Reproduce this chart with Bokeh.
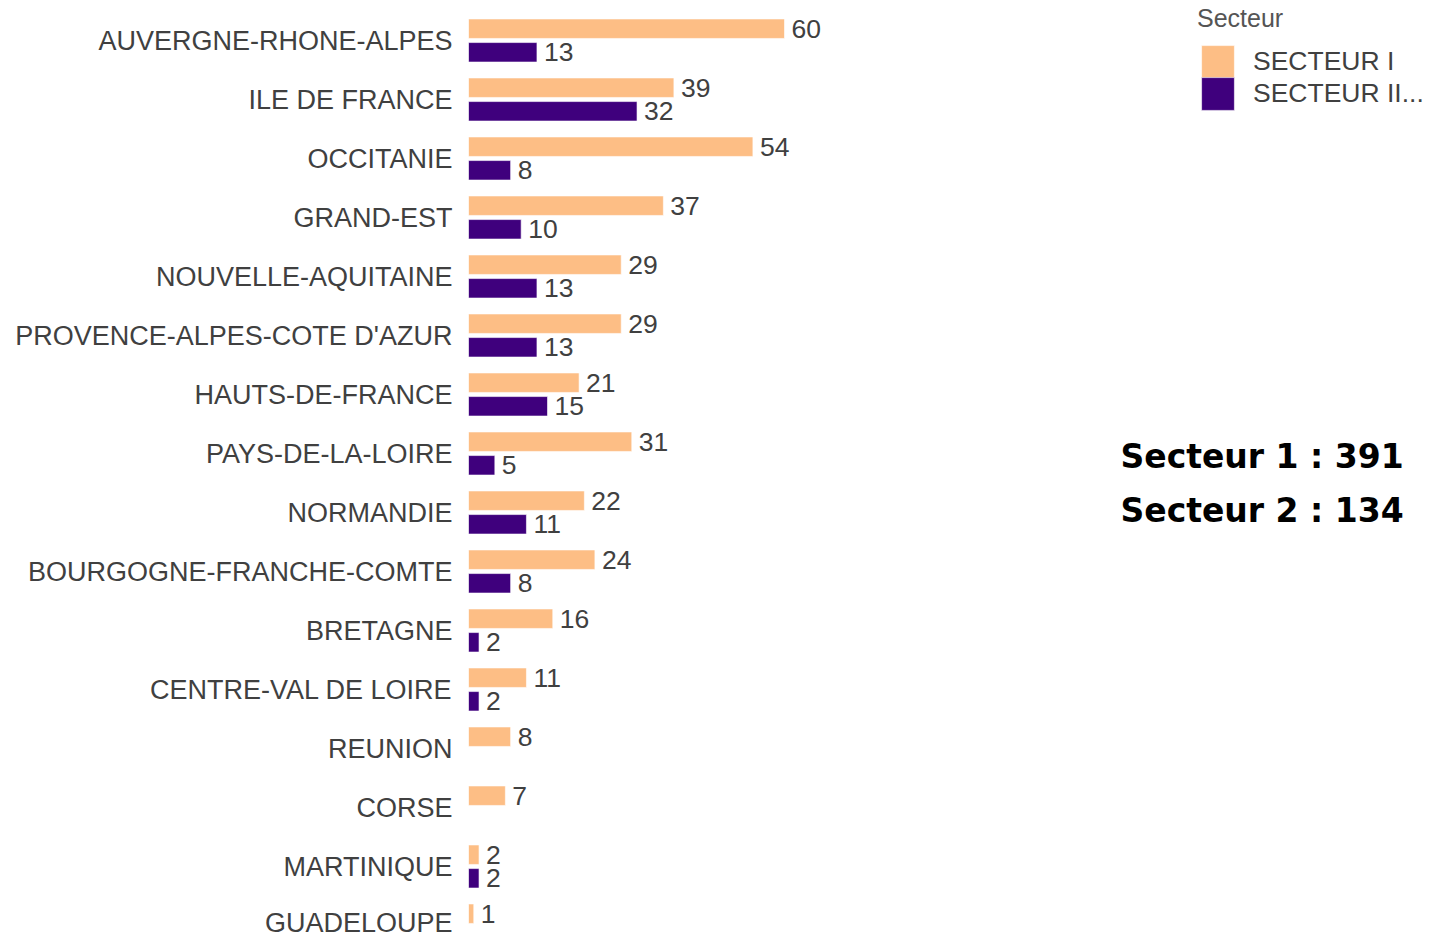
from bokeh.plotting import figure
from bokeh.models import (ColumnDataSource, Range1d, FixedTicker, Legend, LegendItem, Label)
from bokeh.core.properties import value
from bokeh.embed import file_html
from bokeh.resources import INLINE

regions = ["AUVERGNE-RHONE-ALPES", "ILE DE FRANCE", "OCCITANIE", "GRAND-EST",
           "NOUVELLE-AQUITAINE", "PROVENCE-ALPES-COTE D'AZUR", "HAUTS-DE-FRANCE",
           "PAYS-DE-LA-LOIRE", "NORMANDIE", "BOURGOGNE-FRANCHE-COMTE", "BRETAGNE",
           "CENTRE-VAL DE LOIRE", "REUNION", "CORSE", "MARTINIQUE", "GUADELOUPE"]
secteur_1 = [60, 39, 54, 37, 29, 29, 21, 31, 22, 24, 16, 11, 8, 7, 2, 1]
secteur_2 = [13, 32, 8, 10, 13, 13, 15, 5, 11, 8, 2, 2, None, None, 2, None]
series_names = ["SECTEUR I", "SECTEUR II..."]
colors = ["#FDBE85", "#3F007D"]
totals_text = ["Secteur 1 : " + str(sum(v for v in secteur_1 if v)),
               "Secteur 2 : " + str(sum(v for v in secteur_2 if v))]

FONT = "Liberation Sans"
TXT = "#404040"

W, H = 1430, 937
frame_left = 468
px_per_unit = 5.2667
row_px = 59.0
first_row_px = 40.0

p = figure(width=W, height=H, output_backend="svg", toolbar_location=None,
           x_range=Range1d(0, (W - frame_left) / px_per_unit),
           y_range=Range1d(start=(H - first_row_px) / row_px, end=-first_row_px / row_px),
           min_border_left=frame_left, min_border_right=0, min_border_top=0,
           min_border_bottom=0)
p.outline_line_color = None
p.grid.visible = False
p.xaxis.visible = False
p.background_fill_color = "white"
p.border_fill_color = "white"

yax = p.yaxis[0]
yax.ticker = FixedTicker(ticks=list(range(len(regions))))
yax.major_label_overrides = {i: r for i, r in enumerate(regions)}
yax.axis_line_color = None
yax.major_tick_line_color = None
yax.minor_tick_line_color = None
yax.major_label_standoff = 10
yax.major_label_text_font = FONT
yax.major_label_text_font_size = "27px"
yax.major_label_text_color = TXT

offset = 0.2
bh = 0.33
renderers = []
for k, (vals, off) in enumerate([(secteur_1, -offset), (secteur_2, offset)]):
    ys, xs = [], []
    for i, v in enumerate(vals):
        if v is not None:
            ys.append(i + off)
            xs.append(v)
    src = ColumnDataSource(dict(y=ys, x=xs, lab=[str(v) for v in xs]))
    r = p.hbar(y="y", right="x", left=0, height=bh, source=src,
               fill_color=colors[k], line_color="white", line_width=0.6)
    renderers.append(r)
    p.text(x="x", y="y", text="lab", source=src, x_offset=7,
           text_baseline="middle", text_align="left",
           text_font=value(FONT), text_font_size="26.5px", text_color=TXT)

gw = 41
common = dict(label_text_font=FONT, label_text_font_size="26.5px",
              label_text_color=TXT, label_standoff=15,
              glyph_width=gw, glyph_height=gw, label_height=gw,
              spacing=0, padding=0, margin=0,
              border_line_alpha=0, background_fill_alpha=0)
legend1 = Legend(items=[LegendItem(label=series_names[0], renderers=[renderers[0]])],
                 title="Secteur", location=(1201 - 4 - frame_left, 855),
                 title_text_font=FONT, title_text_font_size="25px",
                 title_text_color="#555555", title_text_font_style="normal",
                 title_standoff=8, **common)
legend2 = Legend(items=[LegendItem(label=series_names[1], renderers=[renderers[1]])],
                 location=(1201 - 4 - frame_left, 823), **common)
p.add_layout(legend1)
p.add_layout(legend2)

for j, t in enumerate(totals_text):
    p.add_layout(Label(x=(1120 - frame_left) / px_per_unit, y=7.05 + j * 0.915,
                       text=t, text_font="DejaVu Sans", text_font_style="bold",
                       text_font_size="33px", text_color="black",
                       text_baseline="middle", text_align="left"))

open("out.html", "w").write(file_html(p, INLINE))
